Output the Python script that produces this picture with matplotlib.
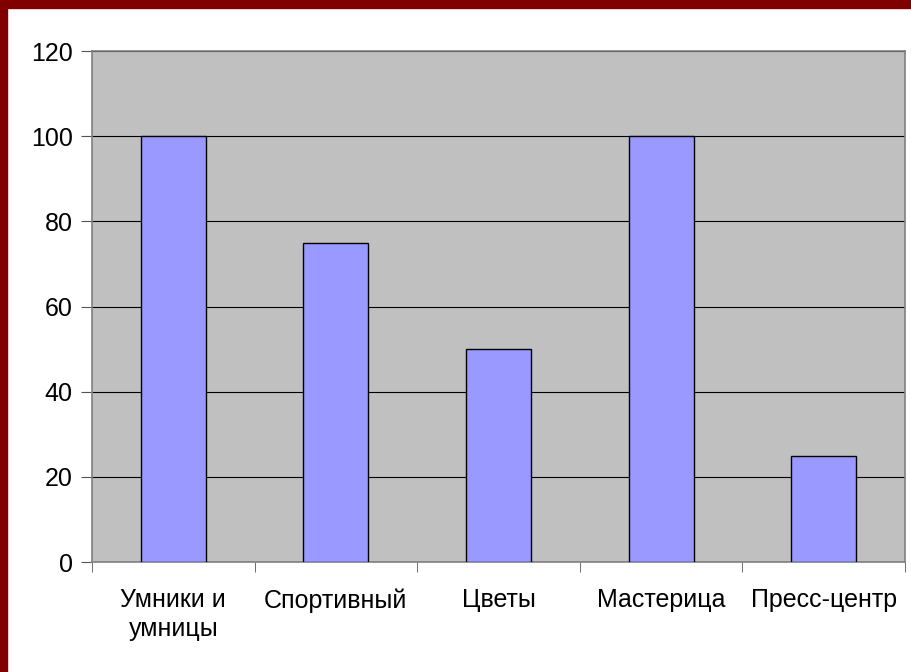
import matplotlib.pyplot as plt
import numpy as np

plt.rcParams['font.family'] = ['Liberation Sans', 'DejaVu Sans']

categories = ['Умники и\nумницы', 'Спортивный', 'Цветы', 'Мастерица', 'Пресс-центр']
values = [100, 75, 50, 100, 25]

fig = plt.figure(figsize=(9.12, 6.72), dpi=100)
fig.patch.set_facecolor('white')

# dark red frame on top and left edges
fig.patches.append(plt.Rectangle((0, 0), 7 / 912, 1, transform=fig.transFigure,
                                 color='#800000', zorder=0))
fig.patches.append(plt.Rectangle((0, 1 - 8 / 672), 1, 8 / 672, transform=fig.transFigure,
                                 color='#800000', zorder=0))

ax = fig.add_axes([92 / 912, 1 - 562 / 672, (905 - 92) / 912, (562 - 51) / 672])
ax.set_facecolor('#c0c0c0')

x = np.arange(len(categories))
ax.bar(x, values, width=0.4, color='#9999ff', edgecolor='black', linewidth=1, zorder=3)

ax.set_xlim(-0.5, len(categories) - 0.5)
ax.set_ylim(0, 120)
ax.set_yticks(np.arange(0, 121, 20))
ax.yaxis.grid(True, color='black', linewidth=0.8, zorder=0)
ax.set_axisbelow(True)

ax.set_xticks(x)
ax.set_xticklabels(categories, fontsize=18, linespacing=1.25)
ax.set_xticks(np.arange(-0.5, len(categories), 1), minor=True)
ax.tick_params(axis='x', which='major', length=0, pad=19)
ax.tick_params(axis='x', which='minor', length=7, color='#555555')
ax.tick_params(axis='y', length=8, color='#555555', labelsize=18, pad=6)
for lab in ax.get_xticklabels():
    lab.set_verticalalignment('top')

for s in ax.spines.values():
    s.set_color('#808080')
    s.set_linewidth(1.2)

fig.savefig('out.png', dpi=100)
